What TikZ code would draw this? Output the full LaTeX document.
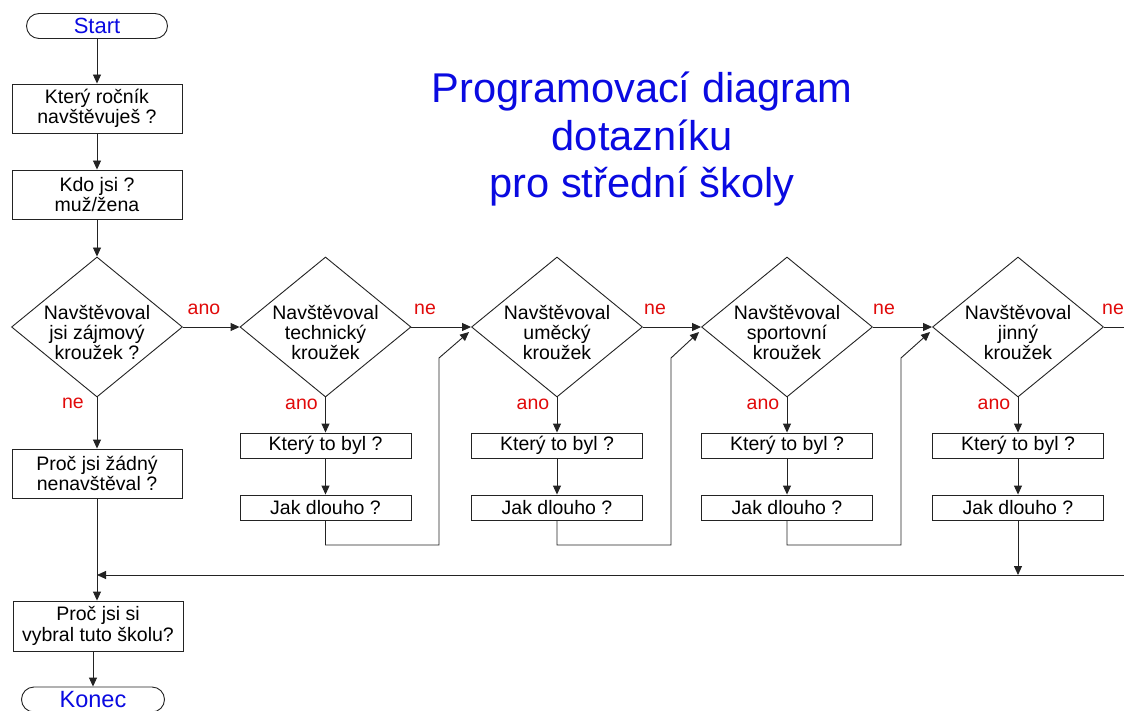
\documentclass[tikz,border=0pt]{standalone}
\usepackage{fontspec}
\setmainfont{Liberation Sans}
\usetikzlibrary{shapes.geometric,shapes.misc,arrows.meta,calc}
\definecolor{ttlblue}{RGB}{10,10,225}
\definecolor{lblred}{RGB}{225,10,10}
\definecolor{lncol}{RGB}{35,35,35}
\begin{document}
\begin{tikzpicture}[x=1pt,y=-1pt,
  every node/.style={font=\fontsize{19.5}{20.5}\selectfont},
  box/.style={draw=lncol, line width=0.9pt, rectangle, minimum width=170pt, minimum height=49pt, align=center, inner sep=0pt},
  sbox/.style={box, minimum width=171pt, minimum height=25pt},
  dia/.style={draw=lncol, line width=0.9pt, diamond, minimum width=171pt, minimum height=140pt, inner sep=0pt},
  dtxt/.style={align=center, inner sep=0pt, yshift=-5pt, font=\fontsize{19.5}{20}\selectfont},
  term/.style={draw=lncol, line width=0.9pt, rounded rectangle, minimum width=141pt, minimum height=25pt, inner sep=0pt, text=ttlblue},
  lbl/.style={text=lblred, inner sep=0pt},
  conn/.style={draw=lncol, line width=0.9pt},
  arr/.style={conn, -{Triangle[length=9pt,width=8pt]}},
  ttl/.style={text=ttlblue, align=center, inner sep=0pt, font=\fontsize{41.6}{47.5}\selectfont}
]
\useasboundingbox (0,0) rectangle (1124,711);
\fill[white] (0,0) rectangle (1124,711);

% title
\node[ttl] (title) at (642,139.5) {Programovací diagram\\dotazníku\\pro střední školy};

% left column
\node[term, font=\fontsize{22}{24}\selectfont] (start) at (97,26) {Start};
\node[box] (q1) at (97,108.5) {Který ročník\\navštěvuješ ?};
\node[box] (q2) at (97,194.5) {Kdo jsi ?\\muž/žena};
\node[dia, label={[dtxt]center:Navštěvoval\\jsi zájmový\\kroužek ?}] (d1) at (97,327) {};
\node[box] (p1) at (97,473.5) {Proč jsi žádný\\nenavštěval ?};
\node[box, minimum height=50pt] (p2) at (98,626) {Proč jsi si\\vybral tuto školu?};
\node[term, minimum width=143pt, font=\fontsize{23.5}{25}\selectfont] (konec) at (93,699.5) {Konec};

% decision columns
\node[dia, label={[dtxt]center:Navštěvoval\\technický\\kroužek}] (d2) at (325.5,327) {};
\node[dia, label={[dtxt]center:Navštěvoval\\uměcký\\kroužek}] (d3) at (557,327) {};
\node[dia, label={[dtxt]center:Navštěvoval\\sportovní\\kroužek}] (d4) at (787,327) {};
\node[dia, label={[dtxt]center:Navštěvoval\\jinný\\kroužek}] (d5) at (1018,327) {};

\foreach \i/\x in {2/325.5,3/557,4/787,5/1018}{
  \node[sbox] (k\i) at (\x,445.5) {Který to byl ?};
  \node[sbox] (j\i) at (\x,507.5) {Jak dlouho ?};
  \draw[arr] (d\i.south) -- (k\i.north);
  \draw[arr] (k\i.south) -- (j\i.north);
  \node[lbl] (a\i) at ($(d\i.south)+(-24,7)$) {ano};
}

% main flow
\draw[arr] (start.south) -- (q1.north);
\draw[arr] (q1.south) -- (q2.north);
\draw[arr] (q2.south) -- (d1.north);
\draw[arr] (d1.south) -- (p1.north);
\node[lbl] (n1) at (73,403) {ne};
\draw[arr] (d1.east) -- (d2.west);
\node[lbl] (a1) at (204,309) {ano};
\draw[arr] (d2.east) -- (d3.west);
\node[lbl] (n2) at (425,309) {ne};
\draw[arr] (d3.east) -- (d4.west);
\node[lbl] (n3) at (655,309) {ne};
\draw[arr] (d4.east) -- (d5.west);
\node[lbl] (n4) at (884,309) {ne};
\coordinate (rend) at (1124,327);
\draw[conn] (d5.east) -- (rend);
\node[lbl] (n5) at (1113,309) {ne};

% return paths
\draw[arr] (j2.south) -- (325.5,545) -- (439,545) -- (439,358) -- ($(d3.west)+(-2,5)$);
\draw[arr] (j3.south) -- (557,545) -- (671,545) -- (671,358) -- ($(d4.west)+(-2,5)$);
\draw[arr] (j4.south) -- (787,545) -- (901,545) -- (901,358) -- ($(d5.west)+(-2,5)$);

\coordinate (rr) at (1124,575);
\draw[arr] (j5.south) -- (j5.south |- rr);
\draw[arr] (rr) -- (p1.south |- rr);
\draw[arr] (p1.south) -- (p1.south |- p2.north);
\draw[arr] (konec.north |- p2.south) -- (konec.north);
\end{tikzpicture}
\end{document}
